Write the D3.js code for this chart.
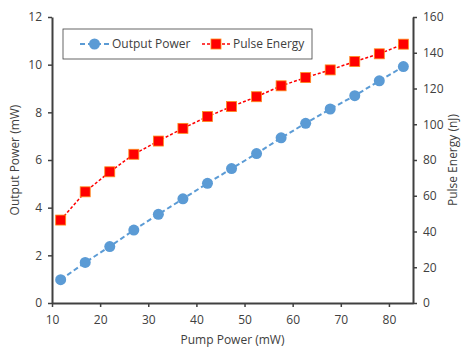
<!DOCTYPE html>
<html>
<head>
<meta charset="utf-8">
<script src="https://cdn.jsdelivr.net/npm/d3@7"></script>
<style>
  body { margin: 0; background: #fff; }
  text { font-family: "Open Sans", "Liberation Sans", sans-serif; fill: #404040; }
</style>
</head>
<body>
<svg id="chart"></svg>
<script>
const width = 462;
const height = 351;

// pump power (mW)
const pumpPower = [11.8, 16.9, 22, 27, 32.1, 37.2, 42.3, 47.3, 52.5, 57.6, 62.7, 67.8, 72.9, 78, 83];
// output power (mW), left axis
const outputPower = [0.98, 1.7, 2.37, 3.06, 3.72, 4.37, 5.02, 5.64, 6.27, 6.93, 7.54, 8.14, 8.7, 9.32, 9.92];
// pulse energy (nJ), right axis
const pulseEnergy = [46.4, 62.2, 73.4, 83.2, 90.6, 97.7, 104.3, 109.9, 115.4, 121.5, 126.1, 130.4, 135.1, 139.4, 144.8];

const xTicks = [10, 20, 30, 40, 50, 60, 70, 80];
const leftTicks = [0, 2, 4, 6, 8, 10, 12];
const rightTicks = [0, 20, 40, 60, 80, 100, 120, 140, 160];

const margin = {top: 17, right: 49, bottom: 48, left: 52};

let svg = d3.select("#chart")
  .attr("width", width)
  .attr("height", height);

const x = d3.scaleLinear().domain([10, 85]).range([margin.left, width - margin.right]);
const yL = d3.scaleLinear().domain([0, 12]).range([height - margin.bottom, margin.top]);
const yR = d3.scaleLinear().domain([0, 160]).range([height - margin.bottom, margin.top]);

function styleAxis(g) {
  g.select(".domain").attr("stroke", "#404040").attr("stroke-width", 2);
  g.selectAll(".tick line").attr("stroke", "#404040").attr("stroke-width", 1.5);
  g.selectAll(".tick text").style("font-size", "12px").attr("fill", "#404040");
}

svg.append("g")
  .attr("transform", `translate(0,${height - margin.bottom})`)
  .call(d3.axisBottom(x).tickValues(xTicks).tickSize(4).tickSizeOuter(0).tickPadding(8))
  .call(styleAxis);

svg.append("g")
  .attr("transform", `translate(${margin.left},0)`)
  .call(d3.axisLeft(yL).tickValues(leftTicks).tickSize(4).tickSizeOuter(0).tickPadding(6))
  .call(styleAxis);

svg.append("g")
  .attr("transform", `translate(${width - margin.right},0)`)
  .call(d3.axisRight(yR).tickValues(rightTicks).tickSize(4).tickSizeOuter(0).tickPadding(6))
  .call(styleAxis);

// axis titles
svg.append("text")
  .attr("x", (margin.left + width - margin.right) / 2)
  .attr("y", 344)
  .attr("text-anchor", "middle")
  .style("font-size", "12px")
  .text("Pump Power (mW)");

svg.append("text")
  .attr("transform", `translate(15,${(margin.top + height - margin.bottom) / 2}) rotate(-90)`)
  .attr("text-anchor", "middle")
  .attr("dy", "0.35em")
  .style("font-size", "12px")
  .text("Output Power (mW)");

svg.append("text")
  .attr("transform", `translate(453,${(margin.top + height - margin.bottom) / 2}) rotate(-90)`)
  .attr("text-anchor", "middle")
  .attr("dy", "0.35em")
  .style("font-size", "12px")
  .text("Pulse Energy (nJ)");

const blue = "#5b9bd5";
const red = "#ff0000";

// output power series
const lineL = d3.line().x((d, i) => x(pumpPower[i])).y(d => yL(d));
svg.append("path")
  .attr("d", lineL(outputPower))
  .attr("fill", "none")
  .attr("stroke", blue)
  .attr("stroke-width", 2)
  .attr("stroke-dasharray", "5,3");

svg.selectAll(".dotL")
  .data(outputPower)
  .enter().append("circle")
  .attr("cx", (d, i) => x(pumpPower[i]))
  .attr("cy", d => yL(d))
  .attr("r", 5.5)
  .attr("fill", blue);

// pulse energy series
const lineR = d3.line().x((d, i) => x(pumpPower[i])).y(d => yR(d));
svg.append("path")
  .attr("d", lineR(pulseEnergy))
  .attr("fill", "none")
  .attr("stroke", red)
  .attr("stroke-width", 1.5)
  .attr("stroke-dasharray", "3,2");

svg.selectAll(".dotR")
  .data(pulseEnergy)
  .enter().append("rect")
  .attr("x", (d, i) => x(pumpPower[i]) - 5)
  .attr("y", d => yR(d) - 5)
  .attr("width", 10)
  .attr("height", 10)
  .attr("fill", red)
  .attr("stroke", "#ff8c1a")
  .attr("stroke-width", 0.8);

// legend
let legend = svg.append("g");
legend.append("rect")
  .attr("x", 63)
  .attr("y", 29)
  .attr("width", 249)
  .attr("height", 30)
  .attr("fill", "#fff")
  .attr("stroke", "#404040")
  .attr("stroke-width", 0.8);

legend.append("line")
  .attr("x1", 80).attr("y1", 44).attr("x2", 110).attr("y2", 44)
  .attr("stroke", blue).attr("stroke-width", 2).attr("stroke-dasharray", "5,3");
legend.append("circle")
  .attr("cx", 94.5).attr("cy", 44).attr("r", 5.5).attr("fill", blue);
legend.append("text")
  .attr("x", 112).attr("y", 44).attr("dy", "0.35em")
  .style("font-size", "12px")
  .text("Output Power");

legend.append("line")
  .attr("x1", 202).attr("y1", 44).attr("x2", 232).attr("y2", 44)
  .attr("stroke", red).attr("stroke-width", 1.5).attr("stroke-dasharray", "3,2");
legend.append("rect")
  .attr("x", 211).attr("y", 39).attr("width", 10).attr("height", 10)
  .attr("fill", red).attr("stroke", "#ff8c1a").attr("stroke-width", 0.8);
legend.append("text")
  .attr("x", 233).attr("y", 44).attr("dy", "0.35em")
  .style("font-size", "12px")
  .text("Pulse Energy");
</script>
</body>
</html>
